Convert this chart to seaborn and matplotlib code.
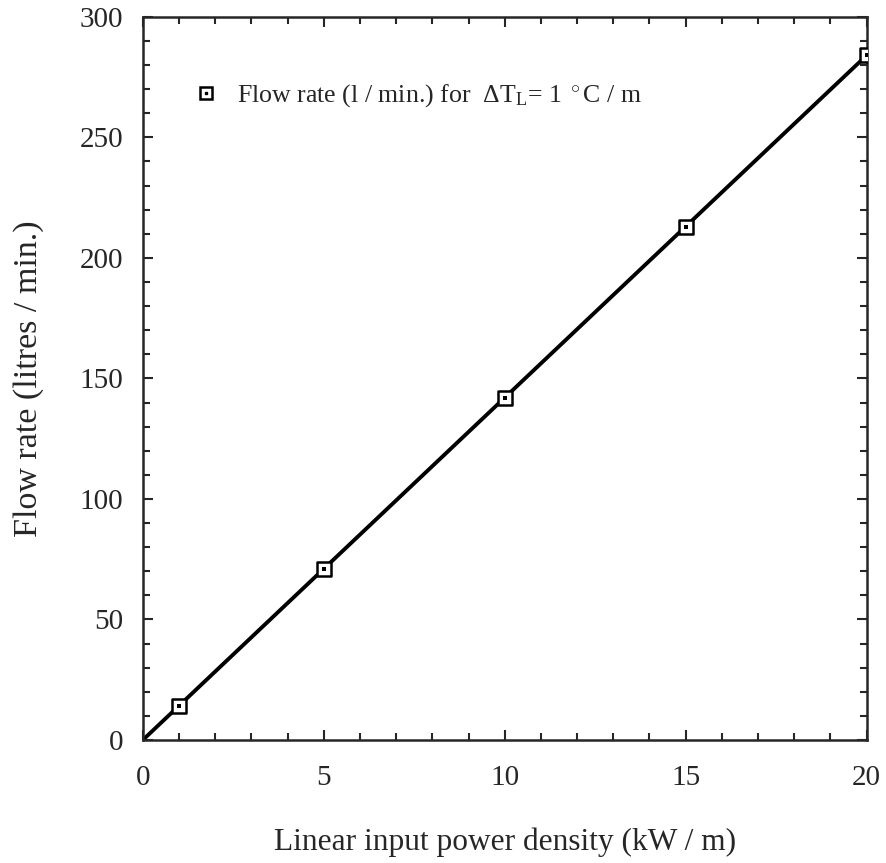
import matplotlib
matplotlib.use("Agg")
import matplotlib.pyplot as plt
import seaborn as sns
import pandas as pd
import numpy as np
from matplotlib.lines import Line2D
from matplotlib.legend_handler import HandlerTuple
from matplotlib.ticker import MultipleLocator

# Data
power = [1, 5, 10, 15, 20]
flow = [14.2, 71, 142, 213, 284]
line_x = [0, 20]
line_y = [0, 284]

sns.set_theme(style="ticks")
plt.rcParams['font.family'] = ['Liberation Serif', 'DejaVu Serif']
plt.rcParams['mathtext.fontset'] = 'custom'
plt.rcParams['mathtext.rm'] = 'Liberation Serif'
plt.rcParams['mathtext.it'] = 'Liberation Serif:italic'

fig = plt.figure(figsize=(8.87, 8.63), dpi=100)
ax = fig.add_axes([0.161, 0.1425, 0.816, 0.838])

df_line = pd.DataFrame({"x": line_x, "y": line_y})
df_pts = pd.DataFrame({"x": power, "y": flow})

sns.lineplot(data=df_line, x="x", y="y", ax=ax, color="black", linewidth=2.8)
sns.scatterplot(data=df_pts, x="x", y="y", ax=ax, marker="s", s=90,
                facecolor="white", edgecolor="black", linewidth=1.8, zorder=3)
sns.scatterplot(data=df_pts, x="x", y="y", ax=ax, marker="s", s=5,
                color="black", linewidth=0, zorder=4)

ax.set_xlim(0, 20)
ax.set_ylim(0, 300)
ax.xaxis.set_major_locator(MultipleLocator(5))
ax.xaxis.set_minor_locator(MultipleLocator(1))
ax.yaxis.set_major_locator(MultipleLocator(50))
ax.yaxis.set_minor_locator(MultipleLocator(10))
ax.tick_params(which="both", direction="in", top=True, right=True,
               width=1.5, labelsize=21)
ax.tick_params(axis="x", which="both", pad=18)
ax.tick_params(axis="y", which="both", pad=14)
ax.tick_params(which="major", length=7)
ax.tick_params(which="minor", length=5)
for s in ax.spines.values():
    s.set_linewidth(1.8)
    s.set_visible(True)

ax.set_xlabel("Linear input power density (kW / m)", fontsize=22.6, labelpad=26)
ax.set_ylabel("Flow rate (litres / min.)", fontsize=24.5, labelpad=26)

h_sq = Line2D([], [], marker="s", markersize=9, markerfacecolor="white",
              markeredgecolor="black", markeredgewidth=1.8, linestyle="none")
h_dot = Line2D([], [], marker="s", markersize=2, color="black", linestyle="none")
ax.legend([(h_sq, h_dot)],
          [r"Flow rate (l / min.) for  $\Delta\mathrm{T_L}$= 1 $^\circ$C / m"],
          handler_map={tuple: HandlerTuple(ndivide=1, pad=0)},
          loc="upper left", bbox_to_anchor=(0.037, 0.9415), frameon=False,
          fontsize=18.6, handletextpad=0.7, handlelength=1.0)

fig.savefig("out.png", dpi=100)
